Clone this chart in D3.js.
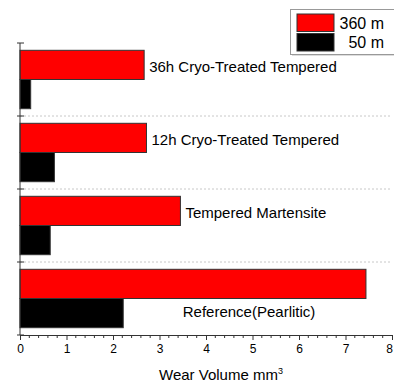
<!DOCTYPE html>
<html>
<head>
<meta charset="utf-8">
<script src="https://cdn.jsdelivr.net/npm/d3@7"></script>
<style>
  body { margin: 0; background: #fff; }
  svg { display: block; font-family: "Liberation Sans", Arial, sans-serif; }
</style>
</head>
<body>
<div class="chart"></div>
<script>
const categories = ["36h Cryo-Treated Tempered", "12h Cryo-Treated Tempered", "Tempered Martensite", "Reference(Pearlitic)"];
const series = ["360 m", "50 m"];
const wear360 = [2.67, 2.72, 3.45, 7.44];
const wear50 = [0.23, 0.74, 0.65, 2.22];
const xTicks = [0, 1, 2, 3, 4, 5, 6, 7, 8];

const colors = { "360 m": "#ff0000", "50 m": "#000000" };

const margin = { top: 43, right: 2, bottom: 51, left: 20 };
const containerWidth = 394;
const containerHeight = 386;
const width = containerWidth - margin.left - margin.right;
const height = containerHeight - margin.top - margin.bottom;

const data = categories.map((c, i) => ({ cat: c, "360 m": wear360[i], "50 m": wear50[i] }));

const svg = d3.select('.chart')
  .append('svg')
  .attr('width', containerWidth)
  .attr('height', containerHeight)
  .append('g')
  .attr('transform', `translate(${margin.left}, ${margin.top})`);

const xScale = d3.scaleLinear().domain([0, 8]).range([0, width]);

const yScale = d3.scaleBand()
  .domain(categories)
  .range([0, height])
  .padding(0);

const ySub = d3.scaleBand()
  .domain(series)
  .range([0, yScale.bandwidth()])
  .paddingInner(0)
  .paddingOuter(0.25);

// dotted separators between groups
svg.selectAll('.sep')
  .data(categories.slice(1))
  .enter().append('line')
  .attr('x1', 0).attr('x2', width)
  .attr('y1', d => yScale(d)).attr('y2', d => yScale(d))
  .attr('stroke', '#c8c8c8')
  .attr('stroke-dasharray', '2,2');

// bars
const groups = svg.selectAll('.grp')
  .data(data)
  .enter().append('g')
  .attr('transform', d => `translate(0, ${yScale(d.cat)})`);

groups.selectAll('rect')
  .data(d => series.map(s => ({ s, v: d[s] })))
  .enter().append('rect')
  .attr('x', 0)
  .attr('y', d => ySub(d.s))
  .attr('width', d => xScale(d.v))
  .attr('height', ySub.bandwidth())
  .attr('fill', d => colors[d.s])
  .attr('stroke', '#333')
  .attr('stroke-width', 1);

// category labels
groups.append('text')
  .attr('x', (d, i) => i < 3 ? xScale(d["360 m"]) + 5 : xScale(3.5))
  .attr('y', (d, i) => i < 3
    ? ySub("360 m") + ySub.bandwidth() / 2 + 7
    : ySub("50 m") + ySub.bandwidth() / 2 + 4)
  .attr('font-size', 15)
  .attr('fill', '#000')
  .text(d => d.cat);

// left axis: line with ticks at group boundaries
const yAxis = svg.append('g');
yAxis.append('line')
  .attr('x1', 0).attr('x2', 0).attr('y1', 0).attr('y2', height)
  .attr('stroke', '#333');
yAxis.selectAll('.yt')
  .data(categories.map(c => yScale(c)).concat([height]))
  .enter().append('line')
  .attr('x1', -3).attr('x2', 4)
  .attr('y1', d => d).attr('y2', d => d)
  .attr('stroke', '#333');

// bottom axis
const xAxis = svg.append('g')
  .attr('transform', `translate(0, ${height})`)
  .call(d3.axisBottom(xScale).tickValues(xTicks).tickSize(5).tickSizeOuter(0).tickPadding(4));
xAxis.select('.domain').attr('stroke', '#333');
xAxis.selectAll('.tick line').attr('stroke', '#333');
xAxis.selectAll('.tick text')
  .attr('font-family', '"Liberation Sans", Arial, sans-serif')
  .attr('font-size', 12)
  .attr('fill', '#000');
// keep the last label inside the window
xAxis.selectAll('.tick text').filter(d => d === 8).attr('dx', -3);

// minor ticks
svg.append('g')
  .attr('transform', `translate(0, ${height})`)
  .selectAll('line')
  .data(d3.range(0, 40).map(i => i * 0.2).filter(v => Math.abs(v - Math.round(v)) > 0.01))
  .enter().append('line')
  .attr('x1', d => xScale(d)).attr('x2', d => xScale(d))
  .attr('y1', 0).attr('y2', 3)
  .attr('stroke', '#333');

// axis title
const title = svg.append('text')
  .attr('x', width / 2 + 15)
  .attr('y', height + 45)
  .attr('text-anchor', 'middle')
  .attr('font-size', 15)
  .attr('fill', '#000');
title.append('tspan').text('Wear Volume mm');
title.append('tspan').attr('font-size', 9).attr('dy', -6).text('3');

// legend
const legend = d3.select('svg').append('g')
  .attr('transform', 'translate(290, 9)');
legend.append('rect')
  .attr('x', 2).attr('y', 2).attr('width', 110).attr('height', 45)
  .attr('fill', '#ddd');
legend.append('rect')
  .attr('x', 0.5).attr('y', 0.5).attr('width', 110).attr('height', 45)
  .attr('fill', '#fff').attr('stroke', '#999');
series.forEach((s, i) => {
  legend.append('rect')
    .attr('x', 7).attr('y', 5 + i * 19.5)
    .attr('width', 37).attr('height', 17.5)
    .attr('fill', colors[s]).attr('stroke', '#333');
  legend.append('text')
    .attr('x', 94).attr('y', 19.5 + i * 19.5)
    .attr('text-anchor', 'end')
    .attr('font-size', 16)
    .attr('fill', '#000')
    .text(s);
});
</script>
</body>
</html>
